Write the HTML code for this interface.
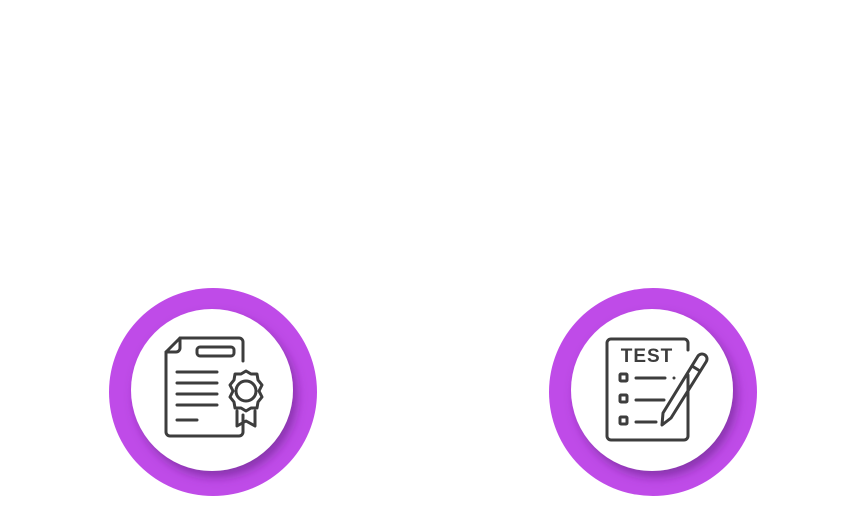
<!DOCTYPE html>
<html><head><style>
body{margin:0;width:846px;height:500px;background:#fff;overflow:hidden}
</style></head><body>
<svg width="846" height="500" viewBox="0 0 846 500">
<defs>
<filter id="sh" x="-30%" y="-30%" width="160%" height="160%">
<feDropShadow dx="4" dy="6" stdDeviation="5" flood-color="#5a1a7a" flood-opacity="0.55"/>
</filter>
</defs>
<g>
<circle cx="213" cy="392" r="104" fill="#bf4be8"/>
<circle cx="212" cy="390" r="81" fill="#fff" filter="url(#sh)"/>
<g fill="none" stroke="#3d3d3d" stroke-width="3" stroke-linecap="round" stroke-linejoin="round">
<path d="M243 415 V432 a4 4 0 0 1 -4 4 H170 a4 4 0 0 1 -4 -4 V352 L180 338 H239 a4 4 0 0 1 4 4 V361"/>
<path d="M166 352 H176 a4 4 0 0 0 4 -4 V338"/>
<rect x="197" y="347" width="37" height="9" rx="3"/>
<path d="M177 372H217M177 383H217M177 394H217M177 405H217M177 420H197"/>
<path d="M246 371 l5 3 6 0 1 6 4 5 -3 6 3 6 -4 5 -1 6 -6 0 -5 3 -5 -3 -6 0 -1 -6 -4 -5 3 -6 -3 -6 4 -5 1 -6 6 0z"/>
<circle cx="246" cy="391" r="10"/>
<path d="M237 411 V426 L246 421 L255 426 V411"/>
</g>
</g>
<g>
<circle cx="653" cy="392" r="104" fill="#bf4be8"/>
<circle cx="652" cy="390" r="81" fill="#fff" filter="url(#sh)"/>
<g fill="none" stroke="#3d3d3d" stroke-width="3" stroke-linecap="round" stroke-linejoin="round">
<path d="M688 375 V436 a4 4 0 0 1 -4 4 H611 a4 4 0 0 1 -4 -4 V343 a4 4 0 0 1 4 -4 H684 a4 4 0 0 1 4 4 V350"/>
<rect x="620" y="374" width="7" height="7" rx="1"/>
<rect x="620" y="395" width="7" height="7" rx="1"/>
<rect x="620" y="417" width="7" height="7" rx="1"/>
<path d="M636 378H665M674 378h0M636 400H664M636 422H656"/>
<path d="M698 356 a5 5 0 0 1 8 6 L671 418 L662 425 L663 413 Z"/>
<path d="M692 366 L700 371"/>
</g>
<text x="647" y="362" text-anchor="middle" font-family="Liberation Sans, sans-serif" font-weight="bold" font-size="19" fill="#3d3d3d" letter-spacing="1">TEST</text>
</g>
</svg>
</body></html>
